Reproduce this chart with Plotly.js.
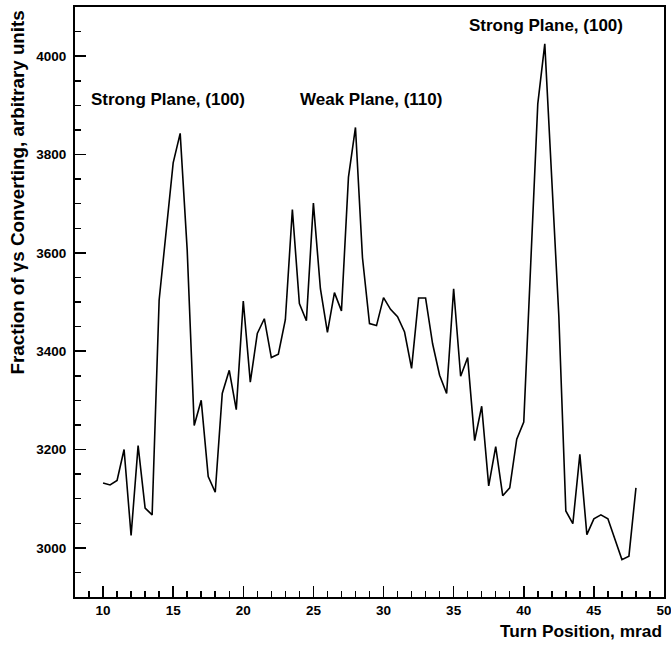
<!DOCTYPE html>
<html>
<head>
<meta charset="utf-8">
<script src="https://cdn.plot.ly/plotly-3.0.1.min.js"></script>
<style>html,body{margin:0;padding:0;background:#fff;}#chart{width:671px;height:646px;}</style>
</head>
<body>
<div id="chart"></div>
<script>
const turnPosition = [10,10.5,11,11.5,12,12.5,13,13.5,14,14.5,15,15.5,16,16.5,17,17.5,18,18.5,19,19.5,
  20,20.5,21,21.5,22,22.5,23,23.5,24,24.5,25,25.5,26,26.5,27,27.5,28,28.5,29,29.5,
  30,30.5,31,31.5,32,32.5,33,33.5,34,34.5,35,35.5,36,36.5,37,37.5,38,38.5,39,39.5,
  40,40.5,41,41.5,42,42.5,43,43.5,44,44.5,45,45.5,46,46.5,47,47.5,48];
const fraction = [3132,3128,3137,3200,3025,3208,3081,3067,3504,3645,3783,3843,3606,3249,3300,3145,3113,3314,3361,3281,
  3502,3337,3436,3466,3387,3394,3464,3688,3497,3462,3701,3527,3438,3519,3482,3754,3855,3590,3456,3452,
  3509,3485,3470,3439,3365,3508,3508,3415,3351,3314,3527,3349,3387,3218,3288,3126,3206,3106,3122,3221,
  3256,3580,3903,4025,3748,3472,3075,3049,3190,3027,3059,3067,3059,3017,2976,2983,3122];
const xTickValues = [10,15,20,25,30,35,40,45,50];
const xTickLabels = ["10","15","20","25","30","35","40","45","50"];
const labelTexts = ["Strong Plane, (100)", "Weak Plane, (110)", "Strong Plane, (100)"];
const xTitle = "Turn Position, mrad";
const yTitle = "Fraction of \u03b3s Converting, arbitrary units";

const FONT = "Liberation Sans, Arial, Helvetica, sans-serif";
const labelPos = [[9.0, 3911], [23.9, 3911], [35.95, 4062]];

const annotations = labelTexts.map((t, i) => ({
  text: t, x: labelPos[i][0], y: labelPos[i][1], xref: 'x', yref: 'y',
  xanchor: 'left', yanchor: 'middle', showarrow: false,
  font: {family: FONT, size: 17, color: '#000', weight: 'bold'}
}));
annotations.push({
  text: xTitle, xref: 'paper', yref: 'paper', x: 1.0, y: -0.057,
  xanchor: 'right', yanchor: 'middle', showarrow: false,
  font: {family: FONT, size: 17.3, color: '#000', weight: 'bold'}
});
annotations.push({
  text: yTitle, xref: 'paper', yref: 'paper', x: -0.098, y: 0.998,
  xanchor: 'center', yanchor: 'top', textangle: -90, showarrow: false,
  font: {family: FONT, size: 18.8, color: '#000', weight: 'bold'}
});

const trace = {
  x: turnPosition, y: fraction, type: 'scatter', mode: 'lines',
  line: {color: '#000', width: 1.6}, hoverinfo: 'skip'
};

const layout = {
  width: 671, height: 646,
  margin: {l: 75, r: 7, t: 7, b: 49},
  paper_bgcolor: '#fff', plot_bgcolor: '#fff',
  showlegend: false,
  font: {family: FONT, color: '#000'},
  xaxis: {
    range: [8, 50.0005], tickmode: 'array', tickvals: xTickValues, ticktext: xTickLabels,
    ticks: 'inside', ticklen: 11, tickwidth: 1.5, tickcolor: '#000', ticklabeloverflow: 'allow',
    minor: {dtick: 1, tick0: 0, ticks: 'inside', ticklen: 6, tickwidth: 1.5, tickcolor: '#000', showgrid: false},
    showline: true, linecolor: '#000', linewidth: 2, mirror: true,
    showgrid: false, zeroline: false,
    tickfont: {family: FONT, size: 13.5, color: '#000', weight: 'bold'}
  },
  yaxis: {
    range: [2900, 4100], tickmode: 'linear', tick0: 0, dtick: 200,
    ticks: 'inside', ticklen: 11, tickwidth: 1.5, tickcolor: '#000',
    minor: {dtick: 50, ticks: 'inside', ticklen: 6, tickwidth: 1.5, tickcolor: '#000', showgrid: false},
    showline: true, linecolor: '#000', linewidth: 2, mirror: true,
    showgrid: false, zeroline: false, ticklabelstandoff: 4,
    tickfont: {family: FONT, size: 13.5, color: '#000', weight: 'bold'}
  },
  annotations: annotations
};

Plotly.newPlot('chart', [trace], layout, {staticPlot: true, displayModeBar: false});
</script>
</body>
</html>
